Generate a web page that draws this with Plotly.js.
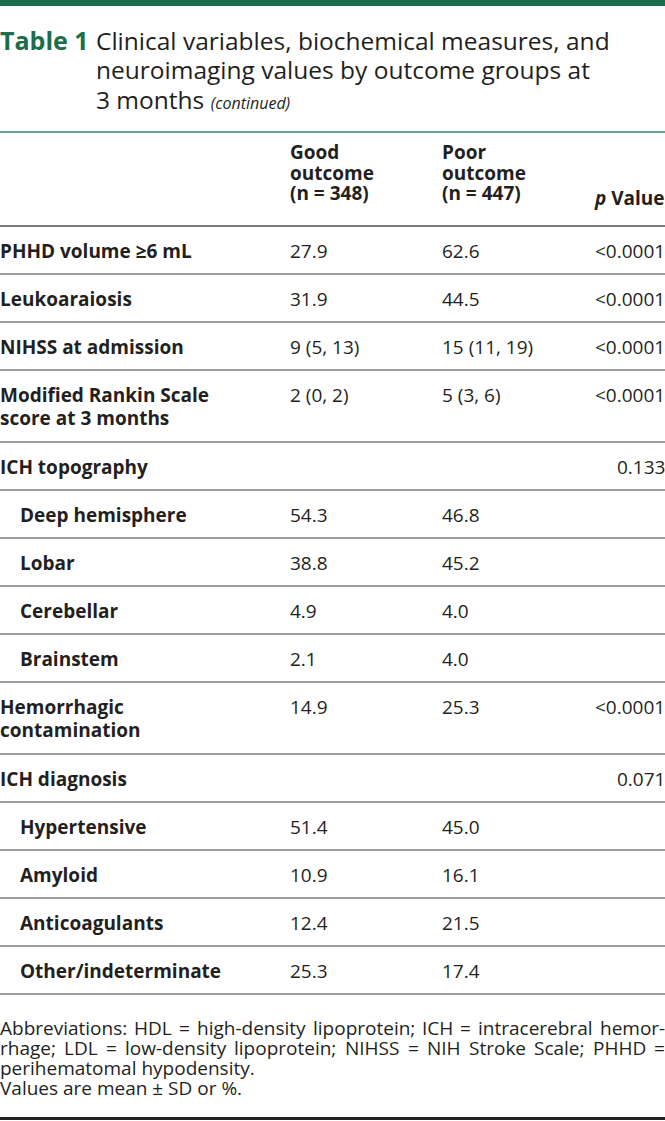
<!DOCTYPE html>
<html>
<head>
<meta charset="utf-8">
<script src="https://cdn.plot.ly/plotly-3.0.1.min.js"></script>
<style>html,body{margin:0;padding:0;background:#fff;}#chart{width:665px;height:1121px;}</style>
</head>
<body>
<div id="chart"></div>
<script>
// ---- content ----
const tableNumber = "Table 1";
const titleLines = ["Clinical variables, biochemical measures, and", "neuroimaging values by outcome groups at", "3 months"];
const titleNote = "(continued)";
const headGood = ["Good", "outcome", "(n = 348)"];
const headPoor = ["Poor", "outcome", "(n = 447)"];
const headP = "<i>p</i> Value";
const rowLabels = ["PHHD volume ≥6 mL", "Leukoaraiosis", "NIHSS at admission", "Modified Rankin Scale|score at 3 months", "ICH topography", "Deep hemisphere", "Lobar", "Cerebellar", "Brainstem", "Hemorrhagic|contamination", "ICH diagnosis", "Hypertensive", "Amyloid", "Anticoagulants", "Other/indeterminate"];
const isSubRow = [false, false, false, false, false, true, true, true, true, false, false, true, true, true, true];
const goodValues = ["27.9", "31.9", "9 (5, 13)", "2 (0, 2)", "", "54.3", "38.8", "4.9", "2.1", "14.9", "", "51.4", "10.9", "12.4", "25.3"];
const poorValues = ["62.6", "44.5", "15 (11, 19)", "5 (3, 6)", "", "46.8", "45.2", "4.0", "4.0", "25.3", "", "45.0", "16.1", "21.5", "17.4"];
const pValues = ["<0.0001", "<0.0001", "<0.0001", "<0.0001", "0.133", "", "", "", "", "<0.0001", "0.071", "", "", "", ""];
const footnotes = ["Abbreviations: HDL = high-density lipoprotein; ICH = intracerebral hemor-", "rhage; LDL = low-density lipoprotein; NIHSS = NIH Stroke Scale; PHHD =", "perihematomal hypodensity.", "Values are mean ± SD or %."];
const footJustified = [true, true, false, false];

// ---- style / layout ----
const W = 665, H = 1121;
const FONT = "Open Sans, Noto Sans, sans-serif";
const TXT = "#231f20";
const GREEN = "#1a6e4b";
const RULE = "#7d7d7d";
const FS = 19;
const colX = {label: 0, sub: 20, good: 290, poor: 442, p: W};
const tableTop = 226, rowH = 48, lineH = 23, firstOff = 25;

const ann = [];
const shapes = [];
function txt(x, y, text, opts) {
  const o = Object.assign({x: x, y: y, xref: 'x', yref: 'y', text: text, showarrow: false,
    xanchor: 'left', yanchor: 'middle', font: {family: FONT, size: FS, color: TXT}}, opts || {});
  if (o.xshift === undefined) o.xshift = o.xanchor === 'right' ? 2 : -2;
  ann.push(o);
}
function hline(y, color, width) {
  shapes.push({type: 'line', xref: 'x', yref: 'y', x0: 0, x1: W, y0: y, y1: y, line: {color: color, width: width}});
}

// top bar
shapes.push({type: 'rect', xref: 'x', yref: 'y', x0: 0, x1: W, y0: 0, y1: 6, fillcolor: GREEN, line: {width: 0}});
// title
txt(0, 40, "<b>" + tableNumber + "</b>", {font: {family: FONT, size: 25, color: GREEN}});
titleLines.forEach((t, i) => {
  let s = t;
  if (i === titleLines.length - 1) s += " <i><span style='font-size:16px'>" + titleNote + "</span></i>";
  txt(96, 40 + i * 29.5, s, {font: {family: FONT, size: 24.5, color: TXT}});
});
hline(132, "#2f8a63", 1.5);

// header
headGood.forEach((t, i) => txt(colX.good, 152 + i * 20.5, "<b>" + t + "</b>"));
headPoor.forEach((t, i) => txt(colX.poor, 152 + i * 20.5, "<b>" + t + "</b>"));
txt(colX.p, 198, "<b>" + headP + "</b>", {xanchor: 'right'});
hline(tableTop, RULE, 2);

// rows
let y = tableTop;
rowLabels.forEach((lab, r) => {
  const parts = lab.split("|");
  const h = rowH + (parts.length - 1) * 24;
  parts.forEach((p, i) => txt(isSubRow[r] ? colX.sub : colX.label, y + firstOff + i * lineH, "<b>" + p + "</b>"));
  if (goodValues[r]) txt(colX.good, y + firstOff, goodValues[r]);
  if (poorValues[r]) txt(colX.poor, y + firstOff, poorValues[r]);
  if (pValues[r]) txt(colX.p, y + firstOff, pValues[r].replace("<", "&lt;"), {xanchor: 'right'});
  y += h;
  hline(y, RULE, 1.5);
});

// footnotes (justified lines measured with canvas)
const ctx = document.createElement('canvas').getContext('2d');
const FFS = 19;
ctx.font = FFS + "px 'Open Sans'";
footnotes.forEach((t, i) => {
  const fy = y + 34 + i * 20;
  const f = {family: FONT, size: FFS, color: TXT};
  if (!footJustified[i]) { txt(0, fy, t, {font: f}); return; }
  const words = t.split(" ");
  const widths = words.map(w => ctx.measureText(w).width);
  const total = widths.reduce((a, b) => a + b, 0);
  const gap = (W - total) / (words.length - 1);
  let x = 0;
  words.forEach((w, k) => {
    if (k === words.length - 1) txt(W, fy, w, {font: f, xanchor: 'right'});
    else txt(x, fy, w, {font: f});
    x += widths[k] + gap;
  });
});
hline(1118.5, "#222", 3);

const layout = {
  width: W, height: H,
  margin: {l: 0, r: 0, t: 0, b: 0},
  paper_bgcolor: '#fff', plot_bgcolor: '#fff',
  xaxis: {range: [0, W], visible: false, fixedrange: true},
  yaxis: {range: [H, 0], visible: false, fixedrange: true},
  showlegend: false,
  annotations: ann,
  shapes: shapes
};
Plotly.newPlot('chart', [{x: [], y: [], type: 'scatter'}], layout, {staticPlot: true, displayModeBar: false});
</script>
</body>
</html>
